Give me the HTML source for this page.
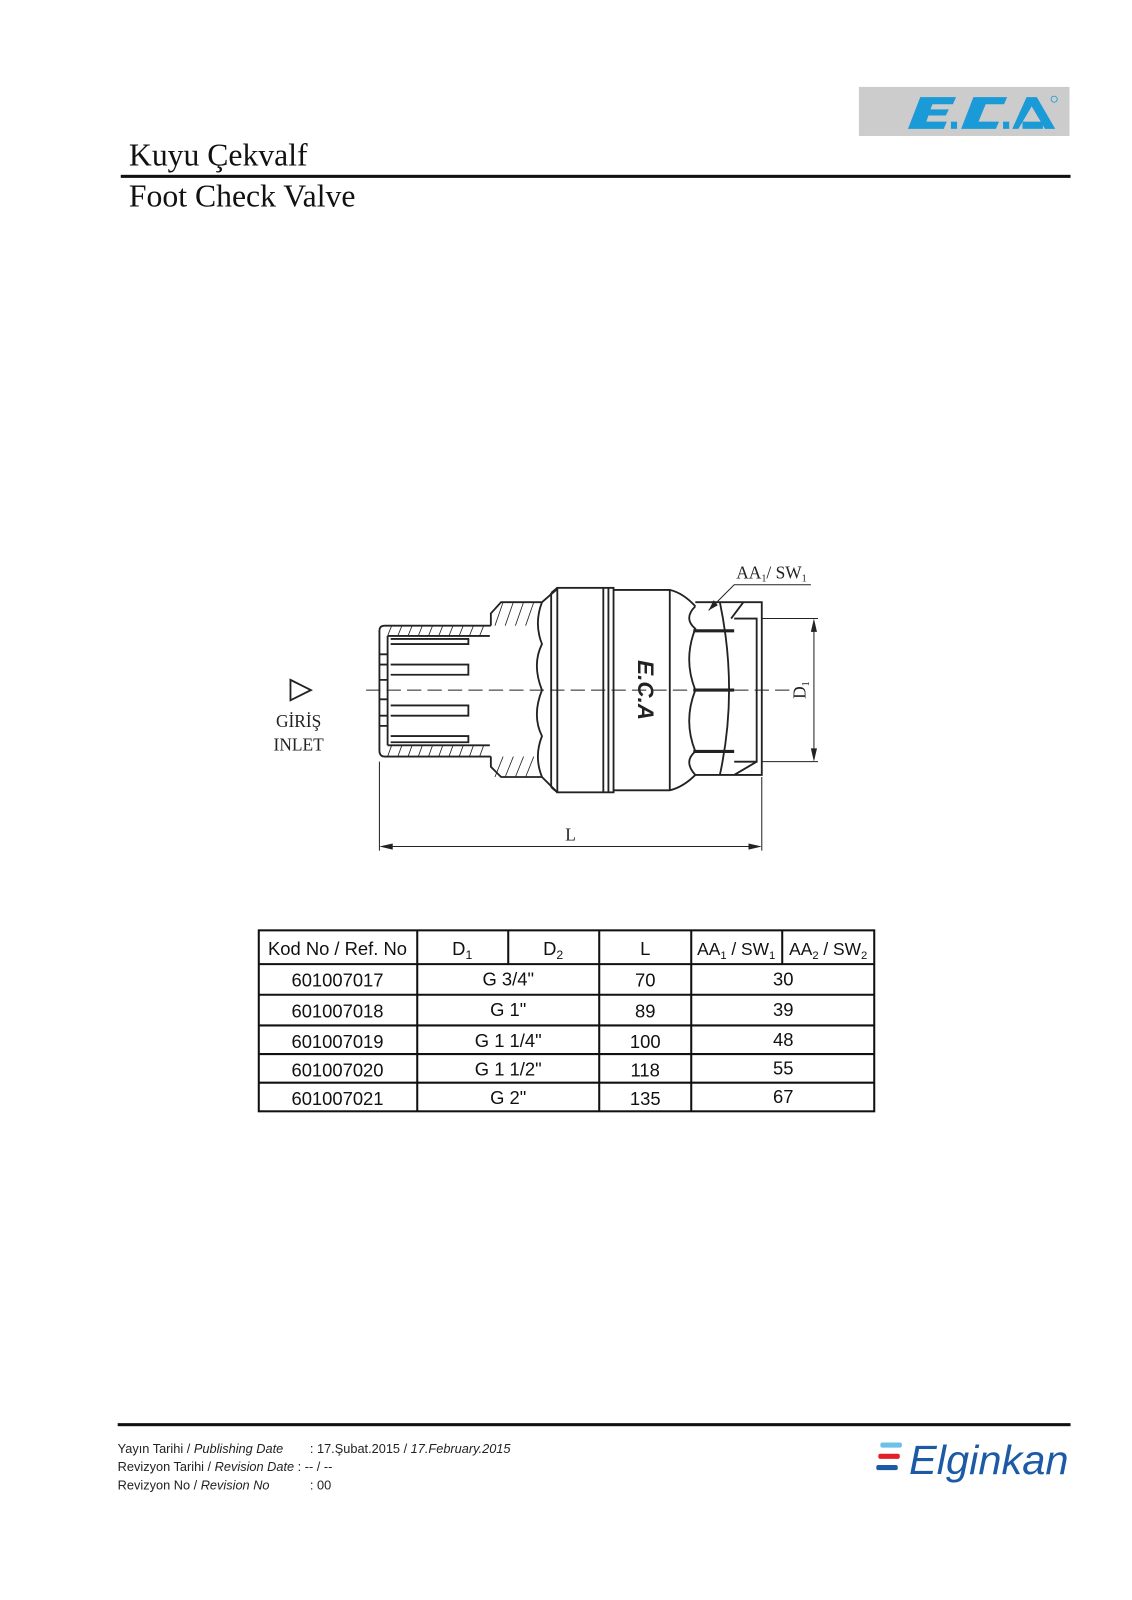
<!DOCTYPE html>
<html><head><meta charset="utf-8"><style>
html,body{margin:0;padding:0;background:#fff;}
body{width:1132px;height:1600px;position:relative;overflow:hidden;}
</style></head><body>
<svg width="1132" height="1600" viewBox="0 0 1107 1565" xmlns="http://www.w3.org/2000/svg" style="position:absolute;left:0;top:0">
<!-- logo -->
<rect x="840" y="85" width="206" height="48" fill="#cccccc"/>
<g fill="#1a9ad6">
<polygon points="900,95 935,95 932,102 912,102 910,107 928,107 925,113 908,113 906,119 926,119 923,126 888,126"/>
<rect x="930" y="119" width="6" height="7"/>
<polygon points="952,95 985,95 982,102 964,102 957,119 977,119 974,126 940,126"/>
<rect x="981" y="119" width="6" height="7"/>
<polygon points="1004,95 1014,95 1032,126 1022,126 1009,104 996,126 990,126"/>
<rect x="1000" y="119" width="20" height="7"/>
</g>
<circle cx="1031" cy="97" r="3" fill="none" stroke="#1a9ad6" stroke-width="0.8"/>
<!-- title -->
<text x="126" y="162" font-family="Liberation Serif, serif" font-size="31" fill="#111">Kuyu Çekvalf</text>
<rect x="118" y="171" width="929" height="3" fill="#111"/>
<text x="126" y="202" font-family="Liberation Serif, serif" font-size="31" fill="#111">Foot Check Valve</text>

<!-- drawing -->
<g fill="none" stroke="#222" stroke-width="1.8">
<path d="M480,612 L376,612 Q371,612 371,617 L371,734 Q371,740 376,740 L480,740"/>
<path d="M379,622 L479,622 M379,729 L479,729"/>
<path d="M379,622 L379,729"/>
<path d="M382,625 L458,625 L458,630 L382,630 M382,650 L458,650 L458,660 L382,660 M382,690 L458,690 L458,700 L382,700 M382,720 L458,720 L458,726 L382,726"/>
<path d="M371,640 L379,640 M371,650 L379,650 M371,665 L379,665 M371,684 L379,684 M371,700 L379,700 M371,710 L379,710"/>
<path d="M480,612 L480,600 L490,589 L530,589 L545,576 M480,740 L480,750 L490,760 L530,760 L545,775"/>
<path d="M530,589 Q522,610 530,630 Q520,650 530,675 Q520,700 530,720 Q522,740 530,760"/>
<rect x="545" y="575" width="55" height="200"/>
<path d="M539,580 L545,575 M539,770 L545,775 M539,580 L539,770 M590,575 L590,775 M595,575 L595,775"/>
<path d="M600,577 L655,577 Q668,580 680,593 M600,773 L655,773 Q668,770 680,758 M655,577 L655,773"/>
<path d="M680,593 Q668,605 680,615 Q668,645 680,675 Q668,705 680,735 Q668,745 680,758"/>
<path d="M680,589 L745,589 L745,758 L680,758 M718,605 L740,605 L740,745 L718,745 M704,589 Q722,675 704,758 M727,589 L715,605 M740,745 L718,758"/>
<path d="M678,617 L718,617 M678,675 L718,675 M678,735 L718,735" stroke-width="3"/>
<g stroke-width="0.8">
<path d="M383,612 L379,622 M393,612 L389,622 M403,612 L399,622 M413,612 L409,622 M423,612 L419,622 M433,612 L429,622 M443,612 L439,622 M453,612 L449,622 M463,612 L459,622 M473,612 L469,622"/>
<path d="M383,729 L379,740 M393,729 L389,740 M403,729 L399,740 M413,729 L409,740 M423,729 L419,740 M433,729 L429,740 M443,729 L439,740 M453,729 L449,740 M463,729 L459,740 M473,729 L469,740"/>
<path d="M492,589 L484,612 M502,589 L494,612 M512,589 L504,612 M522,589 L514,612"/>
<path d="M492,740 L484,760 M502,740 L494,760 M512,740 L504,760 M522,740 L514,760"/>
</g>
<path d="M358,675 L775,675" stroke-width="1" stroke-dasharray="14,6"/>
<polygon points="284,665 304,675 284,685"/>
<path d="M371,745 L371,832 M745,760 L745,832 M375,828 L741,828" stroke-width="1"/>
<path d="M745,605 L800,605 M745,745 L800,745 M796,609 L796,741" stroke-width="1"/>
<path d="M693,597 L718,572 L793,572" stroke-width="1"/>
</g>
<g fill="#222">
<polygon points="371,828 384,825 384,831"/><polygon points="745,828 732,825 732,831"/>
<polygon points="796,605 793,618 799,618"/><polygon points="796,745 793,732 799,732"/>
<polygon points="693,597 698,587 702,592"/>
</g>
<text transform="translate(624,675) rotate(90)" text-anchor="middle" font-family="Liberation Sans, sans-serif" font-style="italic" font-weight="bold" font-size="22" fill="#222">E.C.A</text>
<g font-family="Liberation Serif, serif" font-size="17" fill="#222">
<text x="292" y="711" text-anchor="middle">GİRİŞ</text>
<text x="292" y="734" text-anchor="middle">INLET</text>
<text x="558" y="822" text-anchor="middle">L</text>
<text x="720" y="566">AA<tspan font-size="10" dy="3">1</tspan><tspan dy="-3">/ SW</tspan><tspan font-size="10" dy="3">1</tspan></text>
<text transform="translate(788,675) rotate(-90)" text-anchor="middle">D<tspan font-size="10" dy="3">1</tspan></text>
</g>

<!-- table -->
<g fill="none" stroke="#111" stroke-width="2">
<rect x="253" y="910" width="602" height="177"/>
<path d="M253,943 H855 M253,973 H855 M253,1003 H855 M253,1031 H855 M253,1059 H855"/>
<path d="M408,910 V1087 M586,910 V1087 M676,910 V1087 M497,910 V943 M765,910 V943"/>
</g>
<g font-family="Liberation Sans, sans-serif" font-size="18" fill="#111" text-anchor="middle">
<text x="330" y="934">Kod No / Ref. No</text>
<text x="452" y="934">D<tspan font-size="12" dy="4">1</tspan></text>
<text x="541" y="934">D<tspan font-size="12" dy="4">2</tspan></text>
<text x="631" y="934">L</text>
<text x="720" y="934" font-size="17">AA<tspan font-size="11" dy="4">1</tspan><tspan dy="-4"> / SW</tspan><tspan font-size="11" dy="4">1</tspan></text>
<text x="810" y="934" font-size="17">AA<tspan font-size="11" dy="4">2</tspan><tspan dy="-4"> / SW</tspan><tspan font-size="11" dy="4">2</tspan></text>
<text x="330" y="965">601007017</text><text x="497" y="964">G 3/4"</text><text x="631" y="965">70</text><text x="766" y="964">30</text>
<text x="330" y="995">601007018</text><text x="497" y="994">G 1"</text><text x="631" y="995">89</text><text x="766" y="994">39</text>
<text x="330" y="1025">601007019</text><text x="497" y="1024">G 1 1/4"</text><text x="631" y="1025">100</text><text x="766" y="1023">48</text>
<text x="330" y="1053">601007020</text><text x="497" y="1052">G 1 1/2"</text><text x="631" y="1053">118</text><text x="766" y="1051">55</text>
<text x="330" y="1081">601007021</text><text x="497" y="1080">G 2"</text><text x="631" y="1081">135</text><text x="766" y="1079">67</text>
</g>

<!-- footer -->
<rect x="115" y="1392" width="932" height="3" fill="#111"/>
<g font-family="Liberation Sans, sans-serif" font-size="12.5" fill="#222">
<text x="115" y="1421">Yayın Tarihi / <tspan font-style="italic">Publishing Date</tspan></text>
<text x="303" y="1421">: 17.Şubat.2015 / <tspan font-style="italic">17.February.2015</tspan></text>
<text x="115" y="1439">Revizyon Tarihi / <tspan font-style="italic">Revision Date</tspan> : -- / --</text>
<text x="115" y="1457">Revizyon No / <tspan font-style="italic">Revision No</tspan></text>
<text x="303" y="1457">: 00</text>
</g>
<rect x="861" y="1411" width="21" height="5" rx="2" fill="#6cc0ea"/>
<rect x="859" y="1422" width="21" height="5" rx="2" fill="#e2202a"/>
<rect x="857" y="1433" width="21" height="5" rx="2" fill="#1c5aa6"/>
<text x="889" y="1442" font-family="Liberation Sans, sans-serif" font-style="italic" font-size="40" fill="#1c5aa6" textLength="156" lengthAdjust="spacingAndGlyphs">Elginkan</text>
</svg>
</body></html>
